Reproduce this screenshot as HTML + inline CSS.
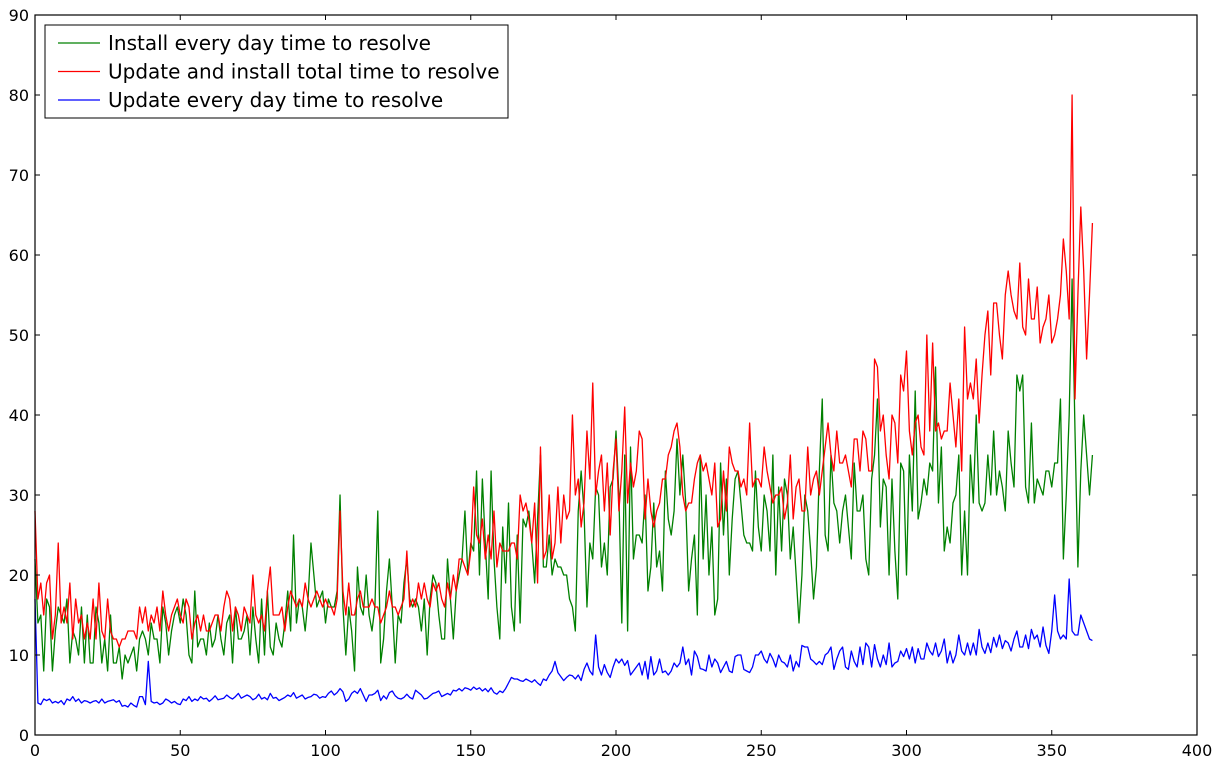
<!DOCTYPE html>
<html><head><meta charset="utf-8"><style>
html,body{margin:0;padding:0;background:#fff;}
svg{display:block;font-family:"DejaVu Sans","Liberation Sans",sans-serif;}
</style></head><body>
<svg id="chart" width="1222" height="763" viewBox="0 0 1222 763"></svg>
<script>
const xTicks=[0,50,100,150,200,250,300,350,400];
const yTicks=[0,10,20,30,40,50,60,70,80,90];
const seriesNames=["Install every day time to resolve","Update and install total time to resolve","Update every day time to resolve"];
const installValues=[
22,14,15,8,17,16,8,13,16,15,
14,17,9,13,12,10,16,9,15,9,
9,16,14,9,12,8,15,9,9,11,
7,10,9,10,11,8,12,13,12,10,
14,12,12,9,16,14,10,13,15,16,
14,17,15,10,9,18,11,12,12,10,
14,11,12,15,12,10,14,15,9,16,
12,12,13,15,10,16,12,9,17,10,
18,11,10,14,12,11,14,18,13,25,
14,17,16,13,17,24,20,16,17,18,
14,17,16,16,18,30,16,10,16,13,
8,21,16,15,20,15,13,16,28,9,
12,18,22,16,9,15,14,19,22,17,
16,17,16,13,17,10,17,20,19,15,
12,12,22,17,12,18,20,22,28,20,
24,23,33,20,32,24,17,33,22,16,
12,26,19,29,16,13,25,14,27,26,
28,24,19,27,35,21,21,25,20,22,
21,21,20,20,17,16,13,28,33,28,
16,24,22,31,30,21,24,20,31,32,
38,30,14,35,13,36,22,25,25,24,
30,18,21,29,21,23,18,33,27,25,
28,37,30,35,29,18,22,25,15,35,
22,30,20,26,15,17,34,25,32,20,
27,32,33,29,25,24,24,23,33,26,
23,30,28,23,35,20,31,23,32,30,
22,26,20,14,20,30,28,23,17,21,
33,42,25,23,35,29,28,24,28,30,
26,22,34,28,28,30,22,20,32,35,
42,26,32,31,20,32,23,17,34,33,
20,35,28,43,27,29,32,30,34,33,
46,29,36,23,26,24,29,30,35,20,
28,20,35,29,40,29,28,29,35,30,
38,30,33,31,28,38,34,31,45,43,
45,31,29,39,29,32,31,30,33,33,
31,34,34,42,22,30,40,57,38,21,33,40,35,30,35];
const totalValues=[
28,17,19,15,19,20,12,15,24,14,
16,14,19,12,17,14,15,12,14,12,
17,12,19,13,12,17,13,12,12,11,
12,12,13,13,13,12,16,14,16,13,
15,14,16,13,18,15,13,15,16,17,
15,14,17,16,12,14,15,13,15,13,
13,14,15,15,13,16,18,17,13,16,
15,13,16,15,14,20,15,14,15,13,
18,21,15,15,15,16,13,16,18,17,
16,17,16,19,17,16,17,18,17,16,
17,16,16,15,17,28,18,15,19,15,
15,17,18,16,16,16,17,16,16,14,
15,16,18,16,16,15,16,17,23,16,
17,16,19,17,19,17,16,19,18,19,
17,16,19,17,20,18,22,22,21,20,
23,31,25,24,27,22,25,22,28,21,
24,23,23,23,24,24,22,30,28,29,
27,24,29,19,36,22,23,30,22,24,
31,24,30,27,28,40,30,32,26,29,
38,32,44,30,33,35,28,34,25,33,
37,28,33,41,29,34,31,33,38,37,
27,32,28,26,28,29,32,32,35,36,
38,39,36,30,28,29,29,32,34,35,
33,34,32,30,34,26,27,33,28,36,
34,33,33,31,32,30,39,31,32,32,
31,36,33,31,29,30,30,31,27,29,
35,27,31,32,28,28,36,30,32,33,
30,33,36,39,35,33,38,34,34,35,
33,31,37,37,33,38,37,33,33,47,
46,38,40,35,32,40,39,34,45,43,
48,38,35,39,40,36,35,50,38,49,
38,39,37,38,38,44,40,36,42,33,
51,42,44,42,47,39,45,50,53,45,
54,54,50,47,55,58,55,53,52,59,
51,50,57,52,52,56,49,51,52,55,
49,50,52,55,62,58,52,80,42,55,66,58,47,55,64];
const updateValues=[
17,4,3.8,4.5,4.3,4.5,4,4.2,4,4.3,
3.8,4.5,4.3,4.8,4.2,4.5,4,4.3,4.2,4,
4.2,4.3,4,4.5,4,4.2,4.3,4.4,4.1,4.3,
3.6,3.7,3.5,4,3.7,3.5,4.8,4.8,3.8,9.2,
4.2,4,4.1,3.8,4,4.5,4.3,4,4.2,3.9,
3.8,4.5,4.3,4.8,4.2,4.5,4.3,4.8,4.5,4.6,
4.2,4.5,4.9,4.4,4.5,4.6,5,4.7,4.5,4.8,
5.2,4.6,4.8,5,4.8,4.4,4.6,5.1,4.5,4.7,
4.4,5.2,4.6,4.7,4.3,4.5,4.7,5,4.8,5.3,
4.6,4.8,5,4.5,4.7,4.8,5.1,5,4.6,4.8,
4.7,5.2,5.5,5,5.3,5.8,5.4,4.2,4.5,5.2,
5.5,5.2,5.8,5,4.2,5,5,5.2,5.6,4.3,
4.9,4.5,5.3,5.5,4.9,4.6,4.5,4.7,5.1,4.7,
4.5,5.6,5.3,5,4.5,4.6,4.9,5.2,5.3,5.5,
4.8,5,5.2,5,5.6,5.5,5.8,5.5,5.9,5.8,
5.6,6,5.7,5.9,5.5,5.8,5.4,5.9,5.3,5.1,
5.5,5.3,5.8,6.5,7.2,7,7,6.8,6.7,7,
6.8,6.6,6.9,6.5,6.2,7,6.8,7.5,8,9.2,
7.8,7.3,6.8,7.2,7.5,7.4,7,7.5,6.8,8.2,
9,8,7.5,12.5,8.5,7.5,8.8,7.8,7.2,8.5,
9.5,9,9.5,8.7,9.3,7.5,8,8.5,9,7.5,
9.2,7,9.8,7.5,8,9.5,7.8,8,7.5,8,
9,8.5,9,11,8.8,9.5,7.5,10.5,9.8,8.3,
8.2,8,10,8.5,9.5,9,7.8,8.5,9.2,8,
7.8,9.8,10,10,8.2,8,7.8,8.5,10,10,
10.5,9.5,9,10.2,9.5,8.5,10,9.2,9,8.5,
10,8,9.2,8.5,11.2,11,11,9.5,9.2,8.8,
9.2,8.8,10,10.3,11,8.2,9.5,10.5,11,8.5,
8.2,10.5,9.2,8.5,11,8.8,11.5,11,8.5,11.3,
9.5,8.5,10,8.8,11.5,8.5,9,9.2,10.5,9.8,
10.8,9.5,11,9,10.8,9.5,9.5,11.5,10.5,10,
11.5,9.8,10.5,12,9,10.5,9,10,12.5,10.5,
10,11.5,10,11.5,10,13.2,11,10.2,11.5,10.3,
12.2,11,12.5,10.8,11.8,11.5,10.5,12,13,11,
11,12.5,10.8,13.2,12,12.5,11,13.5,11.2,10.2,
13,17.5,13,12,12.5,12,19.5,13,12.5,12.5,15,14,13,12,11.8];

const X0=35,X1=1197,Y0=735,Y1=15;
const xScale=v=>X0+(v-0)/(400-0)*(X1-X0);
const yScale=v=>Y0-(v-0)/(90-0)*(Y0-Y1);
const NS="http://www.w3.org/2000/svg";
const svg=document.getElementById('chart');
function mk(tag,attrs,parent){const e=document.createElementNS(NS,tag);for(const k in attrs)e.setAttribute(k,attrs[k]);(parent||svg).appendChild(e);return e;}

const colors=["#008000","#ff0000","#0000ff"];
const allSeries=[installValues,totalValues,updateValues];
const seriesKeys=["install-series-line","total-series-line","update-series-line"];
allSeries.forEach((vals,si)=>{
  const d=vals.map((v,i)=>(i?'L':'M')+xScale(i).toFixed(2)+' '+yScale(v).toFixed(2)).join(' ');
  const p=mk('path',{d:d,fill:'none',stroke:colors[si],'stroke-width':1.3,'stroke-linejoin':'round'});
  
  
});

const frame=mk('rect',{x:X0,y:Y1,width:X1-X0,height:Y0-Y1,fill:'none',stroke:'#000','stroke-width':1.2});



xTicks.forEach(t=>{
  const x=xScale(t);
  mk('line',{x1:x,x2:x,y1:Y0,y2:Y0-5,stroke:'#000'});
  mk('line',{x1:x,x2:x,y1:Y1,y2:Y1+5,stroke:'#000'});
  const tx=mk('text',{x:x,y:Y0+21,'text-anchor':'middle','font-size':16});
  tx.textContent=t;
  
  
});
yTicks.forEach(t=>{
  const y=yScale(t);
  mk('line',{x1:X0,x2:X0+5,y1:y,y2:y,stroke:'#000'});
  mk('line',{x1:X1,x2:X1-5,y1:y,y2:y,stroke:'#000'});
  const ty=mk('text',{x:X0-6,y:y+6,'text-anchor':'end','font-size':16});
  ty.textContent=t;
  
  
});

const lg=mk('g',{});


mk('rect',{x:45,y:25,width:463,height:93,fill:'#fff',stroke:'#000','stroke-width':1},lg);
seriesNames.forEach((n,i)=>{
  const y=43+i*28.5;
  const e=mk('g',{},lg);
  
  
  mk('line',{x1:58,x2:100,y1:y,y2:y,stroke:colors[i],'stroke-width':1.3},e);
  const t=mk('text',{x:108,y:y+7,'font-size':20},e);
  t.textContent=n;
});
</script>
</body></html>
